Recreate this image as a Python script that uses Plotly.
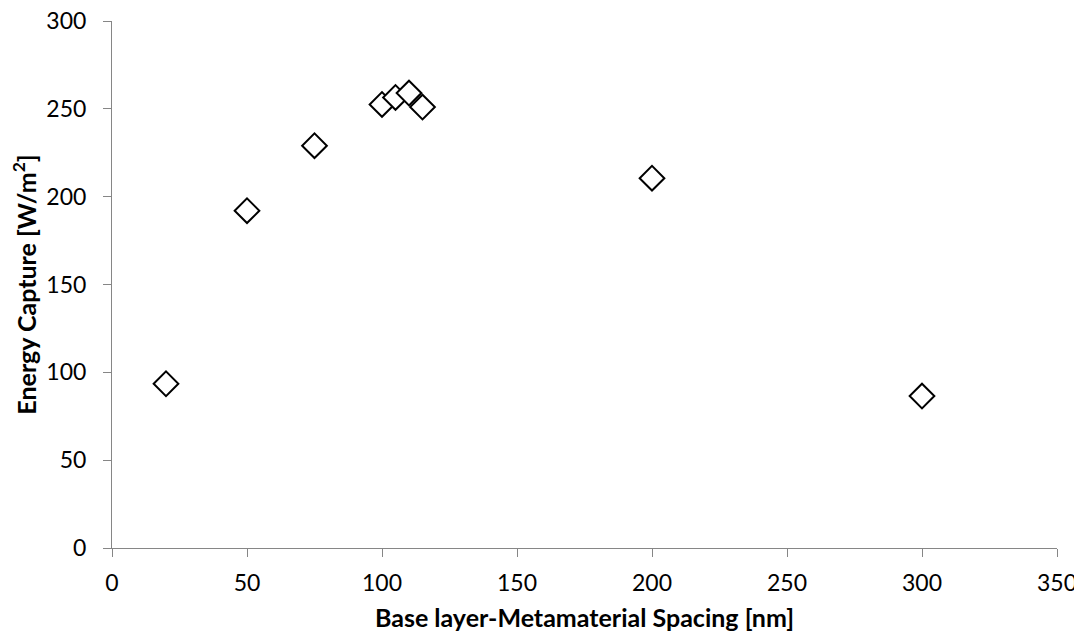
import plotly.graph_objects as go

spacing_nm = [20, 50, 75, 100, 105, 110, 115, 200, 300]
energy_capture = [93.5, 192, 229, 252.5, 256.5, 259, 251, 210.5, 86.5]

x_ticks = [0, 50, 100, 150, 200, 250, 300, 350]
y_ticks = [0, 50, 100, 150, 200, 250, 300]

FONT = "Lato, 'Open Sans', sans-serif"

fig = go.Figure()
fig.add_trace(go.Scatter(
    x=spacing_nm, y=energy_capture, mode="markers",
    marker=dict(symbol="diamond", size=19, color="white",
                line=dict(color="black", width=2)),
    showlegend=False, cliponaxis=False,
))

axis_common = dict(
    showgrid=False, zeroline=False, showline=True, linecolor="#868686",
    linewidth=1, ticks="outside", ticklen=8, tickcolor="#868686",
    tickfont=dict(family=FONT, size=23, color="black"),
    automargin=False, ticklabeloverflow="allow",
)

# the page has an 8px body margin, so the figure is sized to fit the window
fig.update_layout(
    width=1074, height=628,
    paper_bgcolor="white", plot_bgcolor="white",
    margin=dict(l=104, r=25, t=13, b=88),
    xaxis=dict(range=[0, 350], tickvals=x_ticks, ticktext=[str(v) for v in x_ticks],
               ticklabelstandoff=6,
               title=dict(text="<b>Base layer-Metamaterial Spacing [nm]</b>",
                          font=dict(family=FONT, size=25, color="black"), standoff=14),
               **axis_common),
    yaxis=dict(range=[0, 300], tickvals=y_ticks, ticktext=[str(v) for v in y_ticks],
               ticklabelstandoff=12,
               title=dict(text="<b>Energy Capture [W/m<sup>2</sup>]</b>",
                          font=dict(family=FONT, size=25, color="black"), standoff=12),
               **axis_common),
)

fig.write_html("out.html")
